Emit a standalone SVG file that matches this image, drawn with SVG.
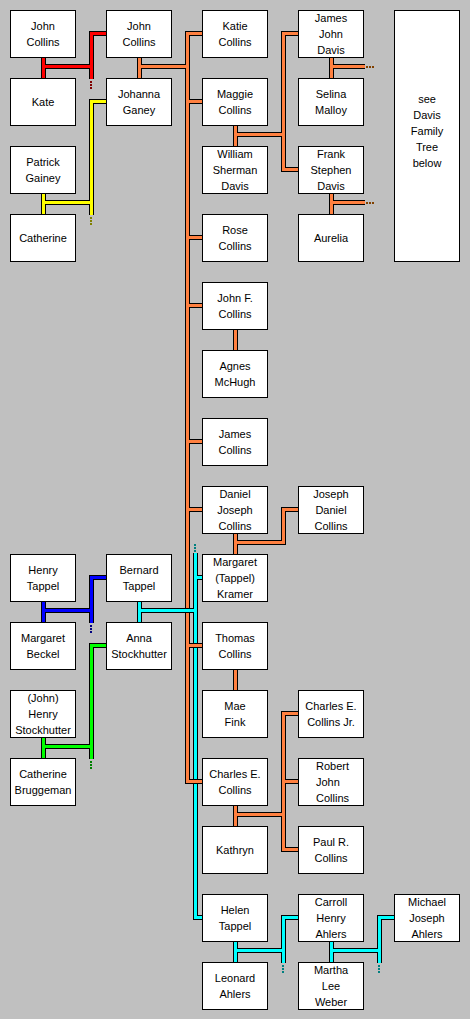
<svg xmlns="http://www.w3.org/2000/svg" width="470" height="1019" viewBox="0 0 470 1019">
<style>
.bg{fill:#c0c0c0}
.node rect{fill:#fff;stroke:#000;stroke-width:1;shape-rendering:crispEdges}
.node text{font-family:"Liberation Sans",Arial,sans-serif;font-size:11px;fill:#000;text-anchor:middle}
.node text.l{text-anchor:start}
#connectors path{fill:none;stroke-linejoin:miter;stroke-linecap:butt;shape-rendering:crispEdges}
.k{stroke:#000;stroke-width:5}
.red{stroke:#ff0000;stroke-width:3}
.yel{stroke:#ffff00;stroke-width:3}
.org{stroke:#ff8040;stroke-width:3}
.blu{stroke:#0000ff;stroke-width:3}
.grn{stroke:#00ff00;stroke-width:3}
.cyn{stroke:#00ffff;stroke-width:3}
.dot{stroke-width:2;stroke-dasharray:2 1}
.d-red{stroke:#800000}
.d-yel{stroke:#808000}
.d-org{stroke:#804000}
.d-blu{stroke:#000080}
.d-grn{stroke:#008000}
.d-cyn{stroke:#008080}
</style>
<rect class="bg" x="0" y="0" width="470" height="1019"/>
<g id="connectors">
  <path class="k" d="M43.5,50V85M43.5,66.5H91.5M91.5,79V33.5H115"/>
  <path class="red" d="M43.5,50V85M43.5,66.5H91.5M91.5,79V33.5H115"/>
  <path class="dot d-red" d="M91,81V89"/>
  <path class="k" d="M43.5,185V220M43.5,202.5H91.5M91.5,215V101.5H115"/>
  <path class="yel" d="M43.5,185V220M43.5,202.5H91.5M91.5,215V101.5H115"/>
  <path class="dot d-yel" d="M91,217V225"/>
  <path class="k" d="M43.5,590V630M43.5,610.5H91.5M91.5,623V577.5H115"/>
  <path class="blu" d="M43.5,590V630M43.5,610.5H91.5M91.5,623V577.5H115"/>
  <path class="dot d-blu" d="M91,625V633"/>
  <path class="k" d="M43.5,730V765M43.5,746.5H91.5M91.5,759V645.5H115"/>
  <path class="grn" d="M43.5,730V765M43.5,746.5H91.5M91.5,759V645.5H115"/>
  <path class="dot d-grn" d="M91,761V769"/>
  <path class="k" d="M139.5,50V85M139.5,66.5H187.5M210,33.5H187.5V781.5H210M187.5,101.5H210M187.5,237.5H210M187.5,305.5H210M187.5,441.5H210M187.5,509.5H210M187.5,645.5H210"/>
  <path class="org" d="M139.5,50V85M139.5,66.5H187.5M210,33.5H187.5V781.5H210M187.5,101.5H210M187.5,237.5H210M187.5,305.5H210M187.5,441.5H210M187.5,509.5H210M187.5,645.5H210"/>
  <path class="k" d="M235.5,120V150M235.5,134.5H283.5M306,33.5H283.5V169.5H306M331.5,50V85M331.5,66.5H365M331.5,190V220M331.5,202.5H365M235.5,320V360M235.5,520V560M235.5,542.5H283.5V509.5H306M235.5,660V700M235.5,800V830M235.5,814.5H283.5M306,713.5H283.5V849.5H306M283.5,781.5H306"/>
  <path class="org" d="M235.5,120V150M235.5,134.5H283.5M306,33.5H283.5V169.5H306M331.5,50V85M331.5,66.5H365M331.5,190V220M331.5,202.5H365M235.5,320V360M235.5,520V560M235.5,542.5H283.5V509.5H306M235.5,660V700M235.5,800V830M235.5,814.5H283.5M306,713.5H283.5V849.5H306M283.5,781.5H306"/>
  <path class="dot d-org" d="M366,67H374M366,203H374"/>
  <path class="k" d="M139.5,590V630M139.5,610.5H195.5M195.5,553V917.5H210M195.5,577.5H210M235.5,930V970M235.5,950.5H283.5M283.5,963V917.5H306M331.5,930V970M331.5,950.5H379.5M379.5,963V917.5H402"/>
  <path class="cyn" d="M139.5,590V630M139.5,610.5H195.5M195.5,553V917.5H210M195.5,577.5H210M235.5,930V970M235.5,950.5H283.5M283.5,963V917.5H306M331.5,930V970M331.5,950.5H379.5M379.5,963V917.5H402"/>
  <path class="dot d-cyn" d="M195,544V552M283,965V973M379,965V973"/>
  <path class="k" d="M190,645.5H210M190,781.5H210"/>
  <path class="org" d="M189,645.5H210M189,781.5H210"/>
</g>
<g id="john-collins-sr" class="node"><rect x="10.5" y="10.5" width="65" height="47"/><text x="43" y="30">John</text><text x="43" y="46">Collins</text></g>
<g id="kate" class="node"><rect x="10.5" y="78.5" width="65" height="47"/><text x="43" y="106">Kate</text></g>
<g id="patrick-gainey" class="node"><rect x="10.5" y="146.5" width="65" height="47"/><text x="43" y="166">Patrick</text><text x="43" y="182">Gainey</text></g>
<g id="catherine" class="node"><rect x="10.5" y="214.5" width="65" height="47"/><text x="43" y="242">Catherine</text></g>
<g id="henry-tappel" class="node"><rect x="10.5" y="554.5" width="65" height="47"/><text x="43" y="574">Henry</text><text x="43" y="590">Tappel</text></g>
<g id="margaret-beckel" class="node"><rect x="10.5" y="622.5" width="65" height="47"/><text x="43" y="642">Margaret</text><text x="43" y="658">Beckel</text></g>
<g id="john-henry-stockhutter" class="node"><rect x="10.5" y="690.5" width="65" height="47"/><text x="43" y="702">(John)</text><text x="43" y="718">Henry</text><text x="43" y="734">Stockhutter</text></g>
<g id="catherine-bruggeman" class="node"><rect x="10.5" y="758.5" width="65" height="47"/><text x="43" y="778">Catherine</text><text x="43" y="794">Bruggeman</text></g>
<g id="john-collins" class="node"><rect x="106.5" y="10.5" width="65" height="47"/><text x="139" y="30">John</text><text x="139" y="46">Collins</text></g>
<g id="johanna-ganey" class="node"><rect x="106.5" y="78.5" width="65" height="47"/><text x="139" y="98">Johanna</text><text x="139" y="114">Ganey</text></g>
<g id="bernard-tappel" class="node"><rect x="106.5" y="554.5" width="65" height="47"/><text x="139" y="574">Bernard</text><text x="139" y="590">Tappel</text></g>
<g id="anna-stockhutter" class="node"><rect x="106.5" y="622.5" width="65" height="47"/><text x="139" y="642">Anna</text><text x="139" y="658">Stockhutter</text></g>
<g id="katie-collins" class="node"><rect x="202.5" y="10.5" width="65" height="47"/><text x="235" y="30">Katie</text><text x="235" y="46">Collins</text></g>
<g id="maggie-collins" class="node"><rect x="202.5" y="78.5" width="65" height="47"/><text x="235" y="98">Maggie</text><text x="235" y="114">Collins</text></g>
<g id="william-sherman-davis" class="node"><rect x="202.5" y="146.5" width="65" height="47"/><text x="235" y="158">William</text><text x="235" y="174">Sherman</text><text x="235" y="190">Davis</text></g>
<g id="rose-collins" class="node"><rect x="202.5" y="214.5" width="65" height="47"/><text x="235" y="234">Rose</text><text x="235" y="250">Collins</text></g>
<g id="john-f-collins" class="node"><rect x="202.5" y="282.5" width="65" height="47"/><text x="235" y="302">John F.</text><text x="235" y="318">Collins</text></g>
<g id="agnes-mchugh" class="node"><rect x="202.5" y="350.5" width="65" height="47"/><text x="235" y="370">Agnes</text><text x="235" y="386">McHugh</text></g>
<g id="james-collins" class="node"><rect x="202.5" y="418.5" width="65" height="47"/><text x="235" y="438">James</text><text x="235" y="454">Collins</text></g>
<g id="daniel-joseph-collins" class="node"><rect x="202.5" y="486.5" width="65" height="47"/><text x="235" y="498">Daniel</text><text x="235" y="514">Joseph</text><text x="235" y="530">Collins</text></g>
<g id="margaret-tappel-kramer" class="node"><rect x="202.5" y="554.5" width="65" height="47"/><text x="235" y="566">Margaret</text><text x="235" y="582">(Tappel)</text><text x="235" y="598">Kramer</text></g>
<g id="thomas-collins" class="node"><rect x="202.5" y="622.5" width="65" height="47"/><text x="235" y="642">Thomas</text><text x="235" y="658">Collins</text></g>
<g id="mae-fink" class="node"><rect x="202.5" y="690.5" width="65" height="47"/><text x="235" y="710">Mae</text><text x="235" y="726">Fink</text></g>
<g id="charles-e-collins" class="node"><rect x="202.5" y="758.5" width="65" height="47"/><text x="235" y="778">Charles E.</text><text x="235" y="794">Collins</text></g>
<g id="kathryn" class="node"><rect x="202.5" y="826.5" width="65" height="47"/><text x="235" y="854">Kathryn</text></g>
<g id="helen-tappel" class="node"><rect x="202.5" y="894.5" width="65" height="47"/><text x="235" y="914">Helen</text><text x="235" y="930">Tappel</text></g>
<g id="leonard-ahlers" class="node"><rect x="202.5" y="962.5" width="65" height="47"/><text x="235" y="982">Leonard</text><text x="235" y="998">Ahlers</text></g>
<g id="james-john-davis" class="node"><rect x="298.5" y="10.5" width="65" height="47"/><text x="331" y="22">James</text><text x="331" y="38">John</text><text x="331" y="54">Davis</text></g>
<g id="selina-malloy" class="node"><rect x="298.5" y="78.5" width="65" height="47"/><text x="331" y="98">Selina</text><text x="331" y="114">Malloy</text></g>
<g id="frank-stephen-davis" class="node"><rect x="298.5" y="146.5" width="65" height="47"/><text x="331" y="158">Frank</text><text x="331" y="174">Stephen</text><text x="331" y="190">Davis</text></g>
<g id="aurelia" class="node"><rect x="298.5" y="214.5" width="65" height="47"/><text x="331" y="242">Aurelia</text></g>
<g id="joseph-daniel-collins" class="node"><rect x="298.5" y="486.5" width="65" height="47"/><text x="331" y="498">Joseph</text><text x="331" y="514">Daniel</text><text x="331" y="530">Collins</text></g>
<g id="charles-e-collins-jr" class="node"><rect x="298.5" y="690.5" width="65" height="47"/><text x="331" y="710">Charles E.</text><text x="331" y="726">Collins Jr.</text></g>
<g id="robert-john-collins" class="node"><rect x="298.5" y="758.5" width="65" height="47"/><text class="l" x="316" y="770">Robert</text><text class="l" x="316" y="786">John</text><text class="l" x="316" y="802">Collins</text></g>
<g id="paul-r-collins" class="node"><rect x="298.5" y="826.5" width="65" height="47"/><text x="331" y="846">Paul R.</text><text x="331" y="862">Collins</text></g>
<g id="carroll-henry-ahlers" class="node"><rect x="298.5" y="894.5" width="65" height="47"/><text x="331" y="906">Carroll</text><text x="331" y="922">Henry</text><text x="331" y="938">Ahlers</text></g>
<g id="martha-lee-weber" class="node"><rect x="298.5" y="962.5" width="65" height="47"/><text x="331" y="974">Martha</text><text x="331" y="990">Lee</text><text x="331" y="1006">Weber</text></g>
<g id="davis-note" class="node"><rect x="394.5" y="10.5" width="65" height="251"/><text x="427" y="103">see</text><text x="427" y="119">Davis</text><text x="427" y="135">Family</text><text x="427" y="151">Tree</text><text x="427" y="167">below</text></g>
<g id="michael-joseph-ahlers" class="node"><rect x="394.5" y="894.5" width="65" height="47"/><text x="427" y="906">Michael</text><text x="427" y="922">Joseph</text><text x="427" y="938">Ahlers</text></g>
</svg>
